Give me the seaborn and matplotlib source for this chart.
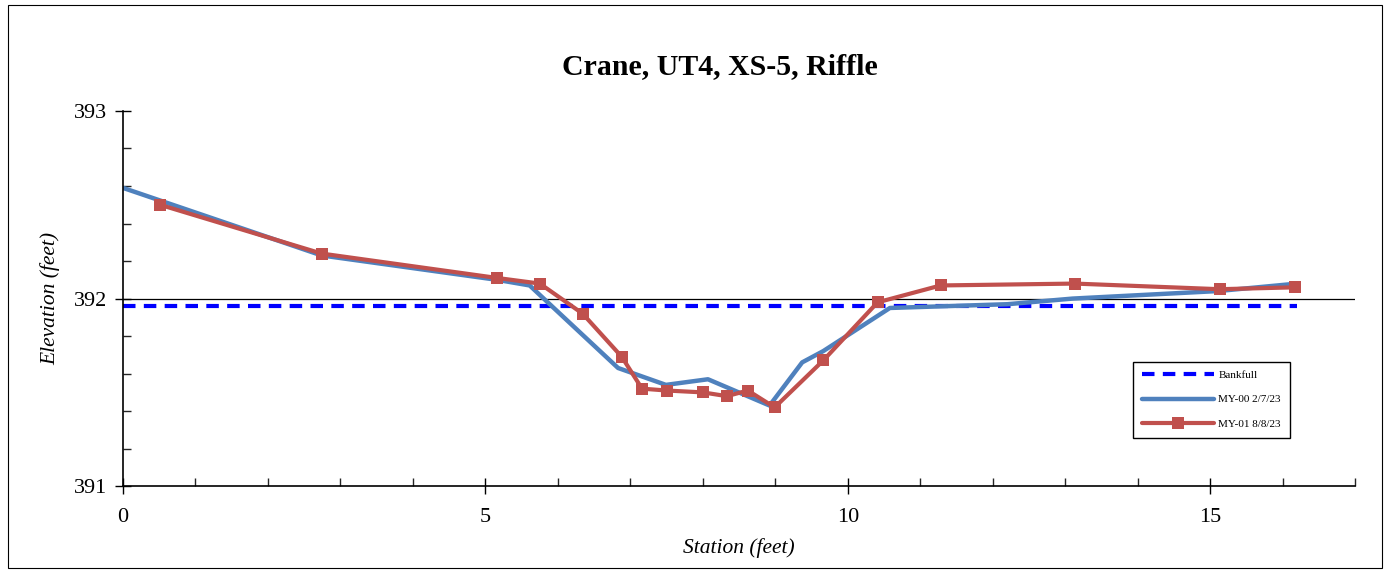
import matplotlib
matplotlib.use('Agg')
import matplotlib.pyplot as plt
from matplotlib.patches import Rectangle
from matplotlib.ticker import MultipleLocator
import pandas as pd
import seaborn as sns

# Survey data
my00_station = [0.0, 2.74, 5.16, 5.61, 6.83, 7.49, 8.07, 8.92, 9.37, 9.66, 10.58, 12.2, 13.1, 15.1, 16.2]
my00_elev = [392.59, 392.23, 392.10, 392.07, 391.63, 391.54, 391.57, 391.43, 391.66, 391.72, 391.95, 391.97, 392.00, 392.04, 392.08]

my01_station = [0.51, 2.74, 5.16, 5.75, 6.34, 6.88, 7.16, 7.50, 8.00, 8.33, 8.62, 8.99, 9.66, 10.41, 11.28, 13.13, 15.13, 16.17]
my01_elev = [392.50, 392.24, 392.11, 392.08, 391.92, 391.69, 391.52, 391.51, 391.50, 391.48, 391.51, 391.42, 391.67, 391.98, 392.07, 392.08, 392.05, 392.06]

bankfull_station = [0.0, 16.2]
bankfull_elev = [391.96, 391.96]

sns.set_theme(style="white")
plt.rcParams['font.family'] = ['Liberation Serif', 'DejaVu Serif']
plt.rcParams['text.color'] = 'black'
plt.rcParams['axes.labelcolor'] = 'black'

fig = plt.figure(figsize=(13.9, 5.72), dpi=100)
ax = fig.add_axes([0.0885, 0.150, 0.8865, 0.656])

# chart border
fig.patches.append(Rectangle((0.006, 0.007), 0.988, 0.985, transform=fig.transFigure,
                             fill=False, edgecolor='black', linewidth=0.8))

ax.axhline(392, color='black', linewidth=0.9, zorder=1)

bank = pd.DataFrame({'x': bankfull_station, 'y': bankfull_elev})
d00 = pd.DataFrame({'x': my00_station, 'y': my00_elev})
d01 = pd.DataFrame({'x': my01_station, 'y': my01_elev})

sns.lineplot(data=bank, x='x', y='y', ax=ax, color='#0000FF', linewidth=3,
             linestyle=(0, (3, 2)), sort=False, label='Bankfull')
sns.lineplot(data=d00, x='x', y='y', ax=ax, color='#4F81BD', linewidth=3.2,
             sort=False, label='MY-00 2/7/23')
sns.lineplot(data=d01, x='x', y='y', ax=ax, color='#C0504D', linewidth=3,
             marker='s', markersize=8, markeredgewidth=0, sort=False, label='MY-01 8/8/23')

ax.set_xlim(0, 17)
ax.set_ylim(391, 393)
ax.xaxis.set_major_locator(MultipleLocator(5))
ax.xaxis.set_minor_locator(MultipleLocator(1))
ax.yaxis.set_major_locator(MultipleLocator(1))
ax.yaxis.set_minor_locator(MultipleLocator(0.2))
ax.tick_params(which='major', direction='inout', length=11, width=1, labelsize=16,
               colors='black', pad=6)
ax.tick_params(axis='x', which='major', pad=10)
ax.tick_params(which='minor', direction='in', length=6, width=1)
ax.tick_params(axis='both', which='both', bottom=True, left=True)

for side in ['top', 'right']:
    ax.spines[side].set_visible(False)
for side in ['left', 'bottom']:
    ax.spines[side].set_color('black')
    ax.spines[side].set_linewidth(1.2)

ax.set_xlabel('Station (feet)', fontsize=15.5, style='italic', labelpad=8)
ax.set_ylabel('Elevation (feet)', fontsize=15.5, style='italic', labelpad=10)
fig.text(0.518, 0.883, 'Crane, UT4, XS-5, Riffle', ha='center', va='center',
         fontsize=21.5, fontweight='bold')

leg = ax.legend(loc='upper left', bbox_to_anchor=(0.815, 0.347), fontsize=8,
                frameon=True, fancybox=False, framealpha=1, edgecolor='black',
                handlelength=6.5, borderpad=0.8, labelspacing=1.3, handletextpad=0.4)
leg.get_frame().set_linewidth(1.0)

fig.savefig('out.png', dpi=100)
